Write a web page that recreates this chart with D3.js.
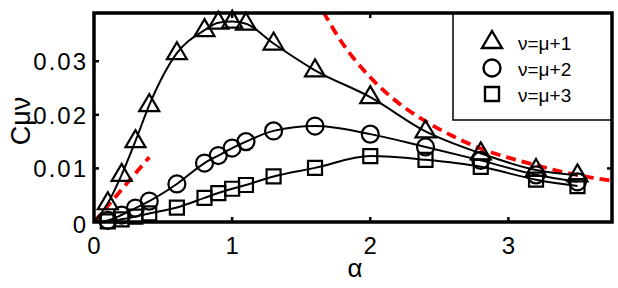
<!DOCTYPE html>
<html>
<head>
<meta charset="utf-8">
<script src="https://cdn.jsdelivr.net/npm/d3@7"></script>
<style>
  body { margin: 0; background: #fff; }
  text { font-family: "Liberation Sans", Arial, sans-serif; }
</style>
</head>
<body>
<div id="chart"></div>
<script>
// sample points (alpha) shared by the three series
const alpha = [0.1, 0.2, 0.3, 0.4, 0.6, 0.8, 0.9, 1.0, 1.1, 1.3, 1.6, 2.0, 2.4, 2.8, 3.2, 3.5];

// C_mu,nu values
const nu1 = [0.0035, 0.0088, 0.0151, 0.0218, 0.0315, 0.0358, 0.0372, 0.0374, 0.0370, 0.0333, 0.0283, 0.0233, 0.0169, 0.0128, 0.0097, 0.0087];
const nu2 = [0.0003, 0.0013, 0.0026, 0.0039, 0.0071, 0.0110, 0.0124, 0.0138, 0.0150, 0.0170, 0.0179, 0.0164, 0.0140, 0.0115, 0.0088, 0.0075];
const nu3 = [0.0001, 0.0005, 0.0010, 0.0016, 0.0027, 0.0045, 0.0054, 0.0062, 0.0069, 0.0085, 0.0101, 0.0123, 0.0116, 0.0103, 0.0079, 0.0067];

// red dashed asymptotes
const smallAlpha = [0, 0.4];
const smallC = [0, 0.0121];
const largeAlpha = [1.66, 1.8, 2.0, 2.2, 2.4, 2.6, 2.8, 3.0, 3.2, 3.4, 3.6, 3.75];
const largeC = [0.0392, 0.0333, 0.0270, 0.0223, 0.0188, 0.0160, 0.0137, 0.0120, 0.0106, 0.0093, 0.0083, 0.0077];

const xTicks = [0, 1, 2, 3];
const yTicks = [0, 0.01, 0.02, 0.03];
const legendLabels = ["ν=μ+1", "ν=μ+2", "ν=μ+3"];

const w = 618, h = 288;
const m = {left: 94, right: 6, top: 13, bottom: 66};

const x = d3.scaleLinear().domain([0, 3.75]).range([m.left, w - m.right]);
const y = d3.scaleLinear().domain([0, 0.039]).range([h - m.bottom, m.top]);

const svg = d3.select("#chart").append("svg")
    .attr("width", w)
    .attr("height", h);

svg.append("defs").append("clipPath").attr("id", "plotclip")
    .append("rect")
    .attr("x", x(0)).attr("y", y(0.039))
    .attr("width", x(3.75) - x(0))
    .attr("height", y(0) - y(0.039));

const plot = svg.append("g").attr("clip-path", "url(#plotclip)");

// red dashed asymptotes
const dashLine = d3.line().x(d => x(d[0])).y(d => y(d[1])).curve(d3.curveMonotoneX);
[[smallAlpha, smallC], [largeAlpha, largeC]].forEach(([a, c]) => {
    plot.append("path")
        .attr("d", dashLine(a.map((v, i) => [v, c[i]])))
        .attr("fill", "none")
        .attr("stroke", "#ff0000")
        .attr("stroke-width", 3.8)
        .attr("stroke-dasharray", "10,6");
});

// solid curves, starting at the origin
const curve = d3.line().x(d => x(d[0])).y(d => y(d[1])).curve(d3.curveMonotoneX);
const series = [nu1, nu2, nu3];
series.forEach(vals => {
    const pts = [[0, 0]].concat(alpha.map((a, i) => [a, vals[i]]));
    plot.append("path")
        .attr("d", curve(pts))
        .attr("fill", "none")
        .attr("stroke", "#000")
        .attr("stroke-width", 2);
});

// markers
const markerPath = [
    () => "M0,-11L10,6L-10,6Z",
    () => d3.arc()({innerRadius: 0, outerRadius: 8.5, startAngle: 0, endAngle: 2 * Math.PI}),
    () => "M-7,-7H7V7H-7Z"
];
series.forEach((vals, s) => {
    svg.append("g")
        .selectAll("path")
        .data(alpha.map((a, i) => [a, vals[i]]))
        .enter()
        .append("path")
        .attr("transform", d => `translate(${x(d[0])},${y(d[1])})`)
        .attr("d", markerPath[s]())
        .attr("fill", "none")
        .attr("stroke", "#000")
        .attr("stroke-width", 2.2);
});

// ticks on all four sides, pointing inward
const tickLen = 5;
xTicks.slice(1).forEach(t => {
    svg.append("line").attr("x1", x(t)).attr("x2", x(t))
        .attr("y1", y(0)).attr("y2", y(0) - tickLen)
        .attr("stroke", "#000").attr("stroke-width", 2.5);
    svg.append("line").attr("x1", x(t)).attr("x2", x(t))
        .attr("y1", y(0.039)).attr("y2", y(0.039) + tickLen)
        .attr("stroke", "#000").attr("stroke-width", 2.5);
});
yTicks.slice(1).forEach(t => {
    svg.append("line").attr("x1", x(0)).attr("x2", x(0) + tickLen)
        .attr("y1", y(t)).attr("y2", y(t))
        .attr("stroke", "#000").attr("stroke-width", 2.5);
    svg.append("line").attr("x1", x(3.75)).attr("x2", x(3.75) - tickLen)
        .attr("y1", y(t)).attr("y2", y(t))
        .attr("stroke", "#000").attr("stroke-width", 2.5);
});

// tick labels
svg.append("g").selectAll("text")
    .data(xTicks)
    .enter()
    .append("text")
    .attr("x", d => x(d))
    .attr("y", 254)
    .attr("text-anchor", "middle")
    .attr("font-size", 24)
    .text(d => d);

svg.append("g").selectAll("text")
    .data(yTicks)
    .enter()
    .append("text")
    .attr("x", 88)
    .attr("y", d => y(d) + (d === 0 ? 11 : 9))
    .attr("text-anchor", "end")
    .attr("font-size", 24)
    .attr("letter-spacing", 2)
    .text(d => d === 0 ? "0" : d.toFixed(2));

// axis labels
svg.append("text")
    .attr("x", 355)
    .attr("y", 277)
    .attr("text-anchor", "middle")
    .attr("font-size", 26)
    .text("α");

svg.append("text")
    .attr("transform", "translate(30,121) rotate(-90)")
    .attr("text-anchor", "middle")
    .attr("font-size", 27)
    .text("Cμν");

// frame
svg.append("rect")
    .attr("x", x(0)).attr("y", y(0.039))
    .attr("width", x(3.75) - x(0))
    .attr("height", y(0) - y(0.039))
    .attr("fill", "none")
    .attr("stroke", "#000")
    .attr("stroke-width", 3.5);

// legend
const legend = svg.append("g");
legend.append("rect")
    .attr("x", 453).attr("y", 14)
    .attr("width", 158).attr("height", 106)
    .attr("fill", "#fff")
    .attr("stroke", "#000")
    .attr("stroke-width", 1.5);
legendLabels.forEach((lab, i) => {
    const cy = 42 + i * 26;
    legend.append("path")
        .attr("transform", `translate(492,${cy})`)
        .attr("d", markerPath[i]())
        .attr("fill", "none")
        .attr("stroke", "#000")
        .attr("stroke-width", 2.4);
    legend.append("text")
        .attr("x", 518)
        .attr("y", cy + 8)
        .attr("font-size", 19)
        .text(lab);
});
</script>
</body>
</html>
